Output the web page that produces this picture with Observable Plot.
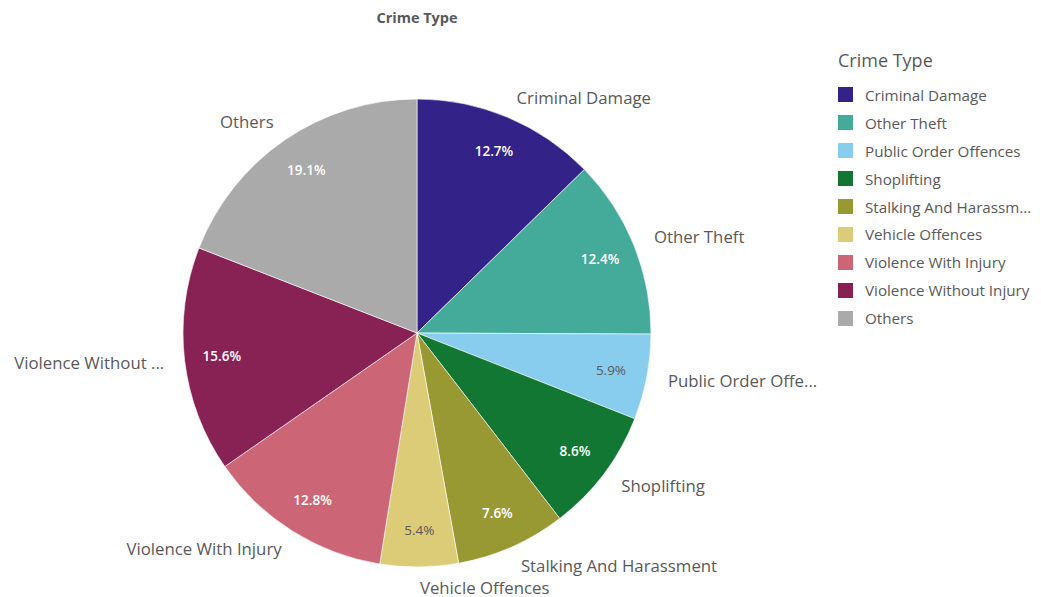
<!DOCTYPE html>
<html>
<head>
<meta charset="utf-8">
<script src="https://cdn.jsdelivr.net/npm/d3@7"></script>
<script src="https://cdn.jsdelivr.net/npm/@observablehq/plot@0.6"></script>
<style>
  html, body { margin: 0; padding: 0; background: #fff; }
  #wrap { position: relative; width: 1041px; height: 597px; font-family: "Open Sans", sans-serif; color: #595959; }
  #chart { position: absolute; left: 0; top: 0; }
  #title { position: absolute; left: 0; width: 834px; top: 8px; text-align: center; font-weight: 700; font-size: 14.5px; color: #595959; }
  #legend { position: absolute; left: 838px; top: 45px; }
  #legend .lt { font-size: 18px; color: #595959; height: 30px; line-height: 30px; margin-bottom: 6px; }
  #legend .it { display: flex; align-items: center; height: 27.9px; font-size: 15.2px; color: #595959; white-space: nowrap; }
  #legend .sw { width: 15px; height: 15px; margin-right: 12px; flex: none; }
</style>
</head>
<body>
<div id="wrap">
  <div id="chart"></div>
  <div id="title">Crime Type</div>
  <div id="legend"></div>
</div>
<script>
// ---- data ----
const categories = ["Criminal Damage", "Other Theft", "Public Order Offences", "Shoplifting", "Stalking And Harassment", "Vehicle Offences", "Violence With Injury", "Violence Without Injury", "Others"];
const values = [12.7, 12.4, 5.9, 8.6, 7.6, 5.4, 12.8, 15.6, 19.1];
const sliceLabels = ["Criminal Damage", "Other Theft", "Public Order Offe...", "Shoplifting", "Stalking And Harassment", "Vehicle Offences", "Violence With Injury", "Violence Without ...", "Others"];
const legendLabels = ["Criminal Damage", "Other Theft", "Public Order Offences", "Shoplifting", "Stalking And Harassm...", "Vehicle Offences", "Violence With Injury", "Violence Without Injury", "Others"];
const colors = ["#332288", "#44AA99", "#88CCEE", "#117733", "#999933", "#DDCC77", "#CC6677", "#882255", "#AAAAAA"];
const darkText = ["Public Order Offences", "Vehicle Offences"];

// ---- layout ----
const W = 1041, H = 597;
const CX = 417, CY = 333, R = 234;
const labelR = 1 + 21 / R;
const pctR = 197 / R;

const colorScale = Plot.scale({color: {type: "ordinal", domain: categories, range: colors}});

const rows = categories.map((c, i) => ({category: c, value: values[i], label: sliceLabels[i], pct: values[i].toFixed(1) + "%"}));
const arcs = d3.pie().sort(null).value(d => d.value)(rows);
const pts = arcs.map(a => {
  const m = (a.startAngle + a.endAngle) / 2;
  return {...a.data, mid: m,
    lx: labelR * Math.sin(m), ly: labelR * Math.cos(m),
    px: pctR * Math.sin(m), py: pctR * Math.cos(m)};
});

function pieSlices(index, scales) {
  const sx = typeof scales.x === "function" ? scales.x : (v => CX + v * R);
  const sy = typeof scales.y === "function" ? scales.y : (v => CY - v * R);
  const cx = sx(0), cy = sy(0), rad = sx(1) - sx(0);
  const arc = d3.arc().innerRadius(0).outerRadius(rad);
  const g = d3.create("svg:g").attr("transform", `translate(${cx},${cy})`);
  g.selectAll("path").data(arcs).join("path")
    .attr("d", arc)
    .attr("fill", d => colorScale.apply(d.data.category))
    .attr("stroke", "#ffffff")
    .attr("stroke-width", 0.6)
    .attr("stroke-linejoin", "round");
  return g.node();
}

const chart = Plot.plot({
  width: W, height: H,
  margin: 0,
  style: {fontFamily: "'Open Sans', sans-serif", background: "transparent", overflow: "visible"},
  x: {type: "linear", domain: [-CX / R, (W - CX) / R], range: [0, W], axis: null},
  y: {type: "linear", domain: [CY / R, -(H - CY) / R], range: [0, H], axis: null},
  marks: [
    pieSlices,
    Plot.text(pts.filter(d => d.lx >= -0.01), {x: "lx", y: "ly", text: "label", textAnchor: "start", fontSize: 16.8, fill: "#595959"}),
    Plot.text(pts.filter(d => d.lx < -0.01), {x: "lx", y: "ly", text: "label", textAnchor: "end", fontSize: 16.8, fill: "#595959"}),
    Plot.text(pts.filter(d => !darkText.includes(d.category)), {x: "px", y: "py", text: "pct", fontSize: 13.5, fontWeight: 600, fill: "#ffffff"}),
    Plot.text(pts.filter(d => darkText.includes(d.category)), {x: "px", y: "py", text: "pct", fontSize: 13.5, fontWeight: 400, fill: "#595959"})
  ]
});
document.getElementById("chart").appendChild(chart);

// ---- legend ----
const leg = d3.select("#legend");
leg.append("div").attr("class", "lt").text("Crime Type");
categories.forEach((c, i) => {
  const it = leg.append("div").attr("class", "it");
  it.append("div").attr("class", "sw").style("background", colorScale.apply(c));
  it.append("span").text(legendLabels[i]);
});
</script>
</body>
</html>
